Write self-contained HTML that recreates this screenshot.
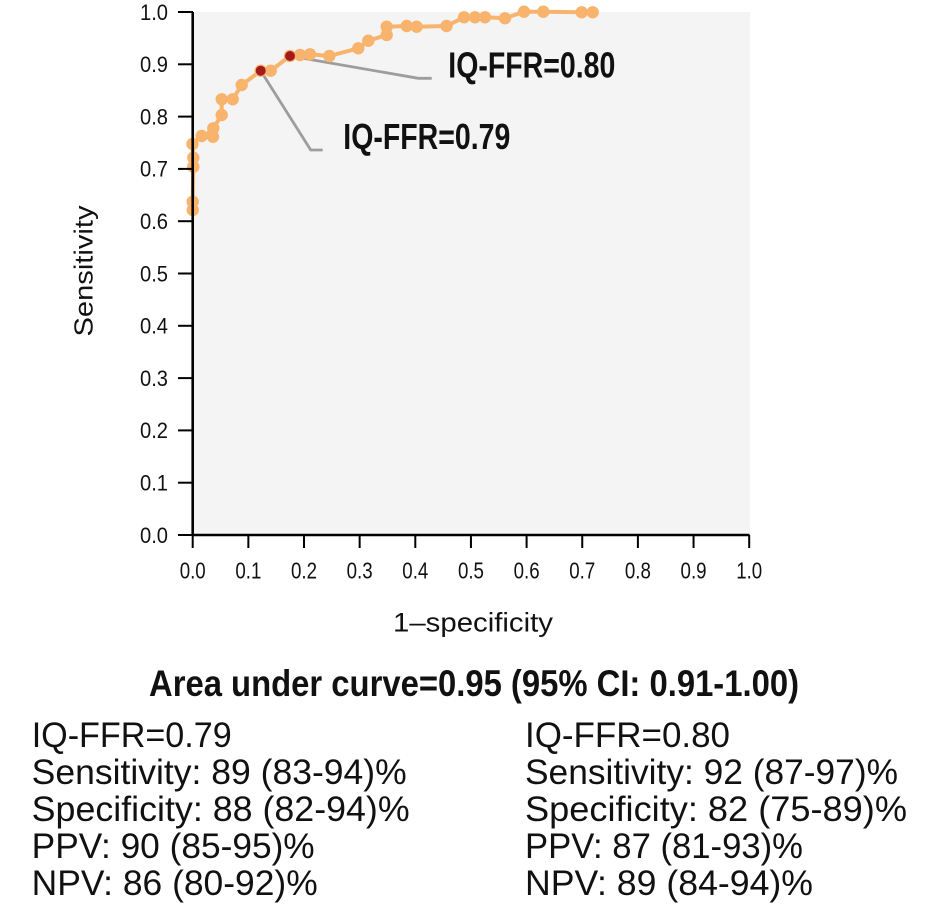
<!DOCTYPE html>
<html>
<head>
<meta charset="utf-8">
<style>
  html, body { margin: 0; padding: 0; background: #ffffff; }
  body { width: 945px; height: 919px; overflow: hidden; }
  svg { display: block; }
  text { font-family: "Liberation Sans", "DejaVu Sans", sans-serif; fill: #111; }
</style>
</head>
<body>
<svg width="945" height="919" viewBox="0 0 945 919" xmlns="http://www.w3.org/2000/svg">
  <!-- plot background -->
  <rect x="193" y="12" width="557" height="523" fill="#f4f4f4"/>

  <!-- leader lines -->
  <polyline points="260.7,70.7 310.7,150 322.7,150" fill="none" stroke="#9d9d9d" stroke-width="2.8"/>
  <polyline points="290,56 418.3,78.3 431.7,78.3" fill="none" stroke="#9d9d9d" stroke-width="2.8"/>

  <!-- ROC curve -->
  <g id="roc">
    <polyline fill="none" stroke="#f8b36d" stroke-width="4" stroke-linejoin="round"
      points="192.7,210 192.7,201.7 193.3,166.7 193.3,157.7 192.5,144 201.7,136 212,135 213,136.7 213.3,128.3 221.7,115 221.7,99.3 232.7,99.3 241.7,85 260.7,70.7 270.7,70.7 290,56 300,55 310,54.3 329.3,56 358.3,48.3 368.3,40.7 386.7,35 386.7,26.7 406.7,26 416.7,26.7 446.5,26 464,17.3 475,17.3 485,17.3 505,18.3 524,11.7 543.3,11.7 581.7,12.3 592.7,12.3"/>
    <g fill="#f8b36d">
      <circle cx="192.7" cy="210" r="6.2"/>
      <circle cx="192.7" cy="201.7" r="6.2"/>
      <circle cx="193.3" cy="166.7" r="6.2"/>
      <circle cx="193.3" cy="157.7" r="6.2"/>
      <circle cx="192.5" cy="144" r="6.2"/>
      <circle cx="201.7" cy="136" r="6.2"/>
      <circle cx="212" cy="135" r="6.2"/>
      <circle cx="213" cy="136.7" r="6.2"/>
      <circle cx="213.3" cy="128.3" r="6.2"/>
      <circle cx="221.7" cy="115" r="6.2"/>
      <circle cx="221.7" cy="99.3" r="6.2"/>
      <circle cx="232.7" cy="99.3" r="6.2"/>
      <circle cx="241.7" cy="85" r="6.2"/>
      <circle cx="260.7" cy="70.7" r="6.2"/>
      <circle cx="270.7" cy="70.7" r="6.2"/>
      <circle cx="290" cy="56" r="6.2"/>
      <circle cx="300" cy="55" r="6.2"/>
      <circle cx="310" cy="54.3" r="6.2"/>
      <circle cx="329.3" cy="56" r="6.2"/>
      <circle cx="358.3" cy="48.3" r="6.2"/>
      <circle cx="368.3" cy="40.7" r="6.2"/>
      <circle cx="386.7" cy="35" r="6.2"/>
      <circle cx="386.7" cy="26.7" r="6.2"/>
      <circle cx="406.7" cy="26" r="6.2"/>
      <circle cx="416.7" cy="26.7" r="6.2"/>
      <circle cx="446.5" cy="26" r="6.2"/>
      <circle cx="464" cy="17.3" r="6.2"/>
      <circle cx="475" cy="17.3" r="6.2"/>
      <circle cx="485" cy="17.3" r="6.2"/>
      <circle cx="505" cy="18.3" r="6.2"/>
      <circle cx="524" cy="11.7" r="6.2"/>
      <circle cx="543.3" cy="11.7" r="6.2"/>
      <circle cx="581.7" cy="12.3" r="6.2"/>
      <circle cx="592.7" cy="12.3" r="6.2"/>
    </g>
    <circle cx="260.7" cy="70.7" r="5" fill="#a51b1b"/>
    <circle cx="290" cy="56" r="5" fill="#a51b1b"/>
  </g>

  <!-- axes -->
  <g stroke="#000" fill="none">
    <line x1="192.7" y1="12" x2="192.7" y2="536" stroke-width="2.6"/>
    <line x1="191.5" y1="535" x2="749.5" y2="535" stroke-width="2.6"/>
  </g>
  <!-- y ticks -->
  <g stroke="#000" stroke-width="2">
    <line x1="178" y1="535" x2="193" y2="535"/>
    <line x1="178" y1="482.7" x2="193" y2="482.7"/>
    <line x1="178" y1="430.4" x2="193" y2="430.4"/>
    <line x1="178" y1="378.1" x2="193" y2="378.1"/>
    <line x1="178" y1="325.8" x2="193" y2="325.8"/>
    <line x1="178" y1="273.5" x2="193" y2="273.5"/>
    <line x1="178" y1="221.2" x2="193" y2="221.2"/>
    <line x1="178" y1="168.9" x2="193" y2="168.9"/>
    <line x1="178" y1="116.6" x2="193" y2="116.6"/>
    <line x1="178" y1="64.3" x2="193" y2="64.3"/>
    <line x1="178" y1="12" x2="193" y2="12"/>
  </g>
  <!-- x ticks -->
  <g stroke="#000" stroke-width="2">
    <line x1="192.7" y1="535" x2="192.7" y2="548"/>
    <line x1="248.35" y1="535" x2="248.35" y2="548"/>
    <line x1="304" y1="535" x2="304" y2="548"/>
    <line x1="359.65" y1="535" x2="359.65" y2="548"/>
    <line x1="415.3" y1="535" x2="415.3" y2="548"/>
    <line x1="470.95" y1="535" x2="470.95" y2="548"/>
    <line x1="526.6" y1="535" x2="526.6" y2="548"/>
    <line x1="582.25" y1="535" x2="582.25" y2="548"/>
    <line x1="637.9" y1="535" x2="637.9" y2="548"/>
    <line x1="693.55" y1="535" x2="693.55" y2="548"/>
    <line x1="749.2" y1="535" x2="749.2" y2="548"/>
  </g>

  <!-- y tick labels -->
  <g font-size="22" text-anchor="end">
    <text x="168" y="542.8" textLength="28" lengthAdjust="spacingAndGlyphs">0.0</text>
    <text x="168" y="490.5" textLength="28" lengthAdjust="spacingAndGlyphs">0.1</text>
    <text x="168" y="438.2" textLength="28" lengthAdjust="spacingAndGlyphs">0.2</text>
    <text x="168" y="385.9" textLength="28" lengthAdjust="spacingAndGlyphs">0.3</text>
    <text x="168" y="333.6" textLength="28" lengthAdjust="spacingAndGlyphs">0.4</text>
    <text x="168" y="281.3" textLength="28" lengthAdjust="spacingAndGlyphs">0.5</text>
    <text x="168" y="229" textLength="28" lengthAdjust="spacingAndGlyphs">0.6</text>
    <text x="168" y="176.7" textLength="28" lengthAdjust="spacingAndGlyphs">0.7</text>
    <text x="168" y="124.4" textLength="28" lengthAdjust="spacingAndGlyphs">0.8</text>
    <text x="168" y="72.1" textLength="28" lengthAdjust="spacingAndGlyphs">0.9</text>
    <text x="168" y="19.8" textLength="28" lengthAdjust="spacingAndGlyphs">1.0</text>
  </g>

  <!-- x tick labels -->
  <g font-size="23">
    <text x="179.7" y="578.5" textLength="26" lengthAdjust="spacingAndGlyphs">0.0</text>
    <text x="235.35" y="578.5" textLength="26" lengthAdjust="spacingAndGlyphs">0.1</text>
    <text x="291" y="578.5" textLength="26" lengthAdjust="spacingAndGlyphs">0.2</text>
    <text x="346.65" y="578.5" textLength="26" lengthAdjust="spacingAndGlyphs">0.3</text>
    <text x="402.3" y="578.5" textLength="26" lengthAdjust="spacingAndGlyphs">0.4</text>
    <text x="457.95" y="578.5" textLength="26" lengthAdjust="spacingAndGlyphs">0.5</text>
    <text x="513.6" y="578.5" textLength="26" lengthAdjust="spacingAndGlyphs">0.6</text>
    <text x="569.25" y="578.5" textLength="26" lengthAdjust="spacingAndGlyphs">0.7</text>
    <text x="624.9" y="578.5" textLength="26" lengthAdjust="spacingAndGlyphs">0.8</text>
    <text x="680.55" y="578.5" textLength="26" lengthAdjust="spacingAndGlyphs">0.9</text>
    <text x="736.2" y="578.5" textLength="26" lengthAdjust="spacingAndGlyphs">1.0</text>
  </g>

  <!-- axis titles -->
  <text x="393" y="631.5" font-size="27" textLength="160" lengthAdjust="spacingAndGlyphs">1–specificity</text>
  <text transform="translate(92.5,336.5) rotate(-90)" x="0" y="0" font-size="26" textLength="131" lengthAdjust="spacingAndGlyphs">Sensitivity</text>

  <!-- annotations -->
  <text x="448.3" y="77.7" font-size="36" font-weight="bold" textLength="167" lengthAdjust="spacingAndGlyphs">IQ-FFR=0.80</text>
  <text x="343.3" y="149" font-size="36" font-weight="bold" textLength="167" lengthAdjust="spacingAndGlyphs">IQ-FFR=0.79</text>

  <!-- AUC -->
  <text x="149" y="696" font-size="37" font-weight="bold" textLength="650" lengthAdjust="spacingAndGlyphs">Area under curve=0.95 (95% CI: 0.91-1.00)</text>

  <!-- left stats -->
  <g font-size="35">
    <text x="31.7" y="747" textLength="200" lengthAdjust="spacingAndGlyphs">IQ-FFR=0.79</text>
    <text x="31.7" y="784" textLength="375" lengthAdjust="spacingAndGlyphs">Sensitivity: 89 (83-94)%</text>
    <text x="31.7" y="821" textLength="378" lengthAdjust="spacingAndGlyphs">Specificity: 88 (82-94)%</text>
    <text x="31.7" y="858" textLength="283" lengthAdjust="spacingAndGlyphs">PPV: 90 (85-95)%</text>
    <text x="31.7" y="895" textLength="286" lengthAdjust="spacingAndGlyphs">NPV: 86 (80-92)%</text>
  </g>
  <!-- right stats -->
  <g font-size="35">
    <text x="525" y="747" textLength="205" lengthAdjust="spacingAndGlyphs">IQ-FFR=0.80</text>
    <text x="525" y="784" textLength="373" lengthAdjust="spacingAndGlyphs">Sensitivity: 92 (87-97)%</text>
    <text x="525" y="821" textLength="382" lengthAdjust="spacingAndGlyphs">Specificity: 82 (75-89)%</text>
    <text x="525" y="858" textLength="278" lengthAdjust="spacingAndGlyphs">PPV: 87 (81-93)%</text>
    <text x="525" y="895" textLength="288" lengthAdjust="spacingAndGlyphs">NPV: 89 (84-94)%</text>
  </g>
</svg>
</body>
</html>
